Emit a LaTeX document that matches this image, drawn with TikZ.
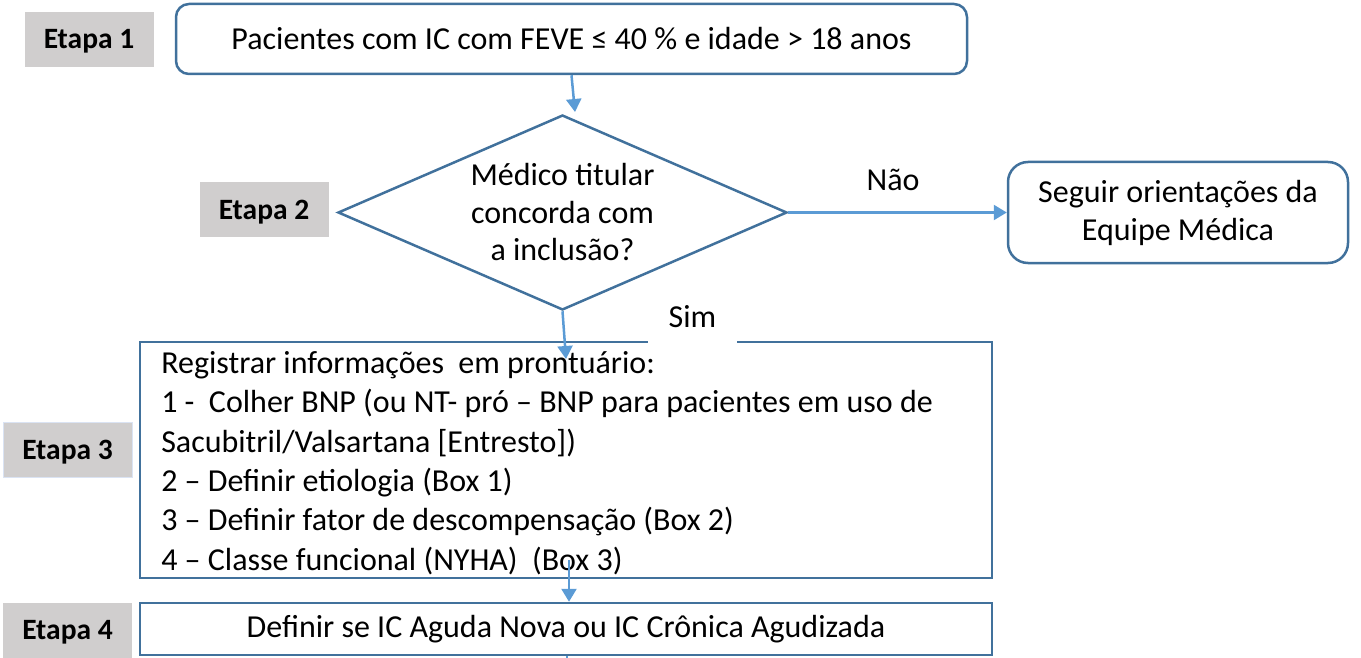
\documentclass[tikz,border=0pt]{standalone}
\usepackage{fontspec}
\setmainfont{Carlito}
\usetikzlibrary{shapes.geometric,arrows.meta}
\definecolor{bord}{HTML}{41719C}
\definecolor{arrc}{HTML}{5B9BD5}
\definecolor{etgrey}{HTML}{D0CECE}
\definecolor{etline}{HTML}{DAE3F3}
\tikzset{
  etapa/.style={fill=etgrey, minimum width=129pt, minimum height=55pt, inner sep=0pt,
    text height=19pt, text depth=0pt,
    font=\fontsize{29.5}{34}\selectfont\bfseries},
  boxr/.style={draw=bord, line width=2.5pt, rounded corners=13pt, inner sep=0pt,
    font=\fontsize{32}{38}\selectfont, align=center},
  boxs/.style={draw=bord, line width=2.5pt, inner sep=0pt,
    font=\fontsize{32}{39.4}\selectfont},
  dec/.style={draw=bord, line width=2.5pt, shape=diamond, shape aspect=2.3, inner sep=0pt,
    minimum width=449pt, minimum height=195pt, align=center,
    font=\fontsize{32}{37.5}\selectfont},
  arr/.style={draw=arrc, line width=2.5pt, -{Triangle[length=13pt,width=15pt]}},
  lbl/.style={font=\fontsize{32}{38}\selectfont, inner sep=0pt}
}
\begin{document}
\begin{tikzpicture}[x=1pt,y=-1pt]
\useasboundingbox (0,0) rectangle (1361,658);
% stage labels
\node[etapa] (e1) at (89,39.5) {Etapa 1};
\node[etapa] (e2) at (264,209.5) {Etapa 2};
\node[etapa, draw=etline, line width=1pt] (e3) at (67.5,450) {Etapa 3};
\node[etapa] (e4) at (67.5,630) {Etapa 4};
% boxes
\node[boxr, minimum width=791pt, minimum height=70pt] (b1) at (571.5,39) {Pacientes com IC com FEVE ≤ 40 \% e idade > 18 anos};
\node[dec] (d) at (562.5,212.5) {Médico titular\\concorda com\\a inclusão?};
\node[boxr, rounded corners=20pt, minimum width=340pt, minimum height=101pt] (b2) at (1178,212.5) {Seguir orientações da\\Equipe Médica};
\node[boxs, minimum width=852pt, minimum height=236pt] (b3) at (566,460) {};
\node[boxs, draw=none, anchor=west, align=left] (b3t) at (160,463) {Registrar informações\ \ em prontuário:\\
1 -\ \ Colher BNP (ou NT- pró – BNP para pacientes em uso de\\
Sacubitril/Valsartana [Entresto])\\
2 – Definir etiologia (Box 1)\\
3 – Definir fator de descompensação (Box 2)\\
4 – Classe funcional (NYHA)\ \ (Box 3)};
\node[boxs, minimum width=852pt, minimum height=52pt, align=center] (b4) at (566,629) {Definir se IC Aguda Nova ou IC Crônica Agudizada};
% connectors
\coordinate (t1) at (575,112);
\coordinate (t2) at (566,359);
\coordinate (s3) at (569,560);
\coordinate (s4) at (567,660);
\draw[arr] (b1.south) -- (t1);
\draw[arr] (d.east) -- (b2.west);
\draw[arr] (d.south) -- (t2);
\draw[arr] (s3) -- (s3 |- b4.north);
\draw[draw=arrc, line width=2.5pt] (b4.south -| s4) -- (s4);
% labels
\node[lbl] (nao) at (893,180) {Não};
\node[lbl, fill=white, minimum width=89pt, minimum height=52pt] (sim) at (692.5,317) {Sim};
\end{tikzpicture}
\end{document}
